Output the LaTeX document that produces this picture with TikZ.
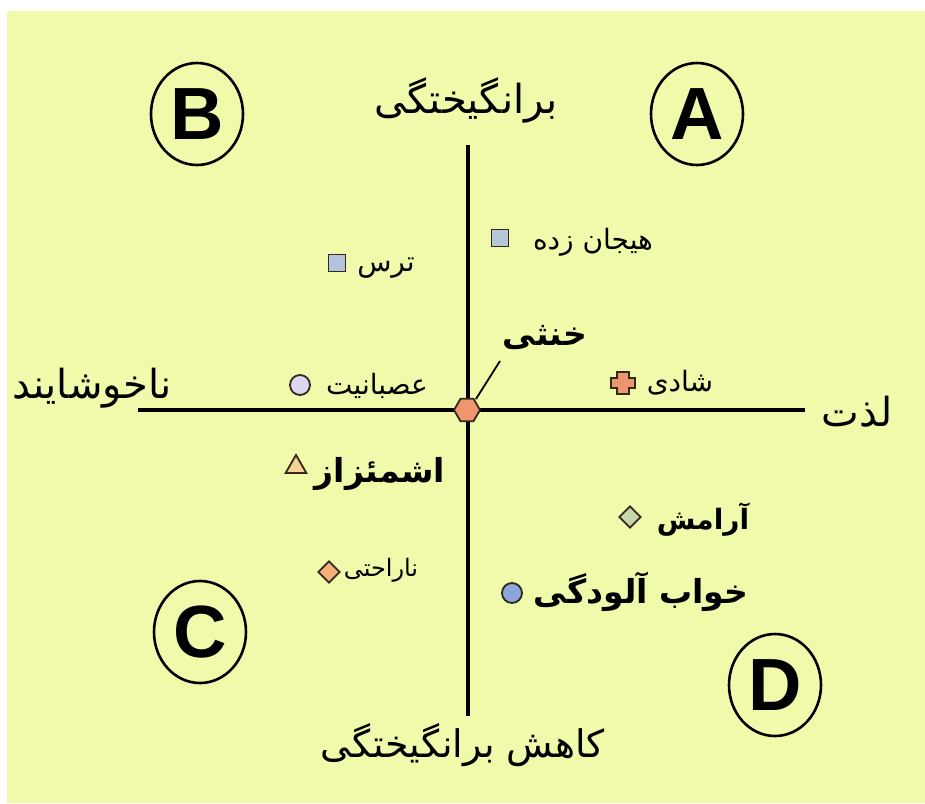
\documentclass[tikz,border=0pt]{standalone}
\usepackage{fontspec}
\setmainfont{Liberation Sans}
\newfontfamily\fa[Script=Arabic]{DejaVu Sans}
\TeXXeTstate=1
\usetikzlibrary{shapes.geometric}
\definecolor{bgyel}{RGB}{240,250,170}
\definecolor{hexc}{RGB}{240,150,110}
\definecolor{sqc}{RGB}{180,200,215}
\definecolor{sqc2}{RGB}{180,196,220}
\definecolor{lavc}{RGB}{220,215,240}
\definecolor{crossc}{RGB}{235,150,110}
\definecolor{tric}{RGB}{250,210,150}
\definecolor{diac}{RGB}{245,175,120}
\definecolor{diag}{RGB}{200,215,170}
\definecolor{bluec}{RGB}{140,165,220}
\definecolor{edgec}{RGB}{50,40,30}
\tikzset{
  quad/.style={draw=black,line width=2.6pt,ellipse,minimum width=92pt,minimum height=102pt,inner sep=0pt,font=\fontsize{74}{74}\selectfont\bfseries},
  axis/.style={line width=3.4pt,black},
  lbl/.style={inner sep=0pt,font=\fa\fontsize{28}{32}\selectfont},
  blbl/.style={inner sep=0pt,font=\fa\bfseries\fontsize{33}{36}\selectfont},
  albl/.style={inner sep=0pt,font=\fa\fontsize{40}{44}\selectfont},
  mk/.style={draw=edgec,line width=1.8pt,inner sep=0pt},
  sqm/.style={mk,rectangle,minimum size=17pt},
  circm/.style={mk,circle,minimum size=20pt},
  diam/.style={mk,diamond,minimum size=22pt},
  trim/.style={mk,regular polygon,regular polygon sides=3,minimum size=24pt},
}
\begin{document}
\begin{tikzpicture}[x=1pt,y=-1pt]
\useasboundingbox (0,0) rectangle (925,803);
\fill[white] (0,0) rectangle (925,803);
\fill[bgyel] (7,11) rectangle (925,803);
% axes
\coordinate (vt) at (468,145);
\coordinate (vb) at (468,716);
\coordinate (hl) at (138,410);
\coordinate (hr) at (805,410);
\draw[axis] (vt) -- (vb);
\draw[axis] (hl) -- (hr);
% quadrant labels
\node[quad] (B) at (197,114) {B};
\node[quad] (A) at (697,114) {A};
\node[quad] (C) at (200,632) {C};
\node[quad] (D) at (775,685) {D};
% axis labels
\node[albl] (top) at (466,100) {\beginR برانگیختگی\endR};
\node[albl,font=\fa\fontsize{38}{42}\selectfont] (bot) at (463,745) {\beginR کاهش برانگیختگی\endR};
\node[albl] (left) at (92,388) {\beginR ناخوشایند\endR};
\node[albl] (right) at (857,412) {\beginR لذت\endR};
% centre
\node[mk,regular polygon,regular polygon sides=6,minimum size=26pt,fill=hexc] (hex) at (467,410) {};
\node[blbl] (neutral) at (545,338) {\beginR خنثی\endR};
\coordinate (lead) at (500,361);
\draw[line width=1.8pt] (hex.north east) ++(0,-2) -- (lead);
% items
\node[sqm,fill=sqc] (m1) at (500,238) {};
\node[lbl] (t1) at (593,242) {\beginR هیجان زده\endR};
\node[sqm,fill=sqc2] (m2) at (337,263) {};
\node[lbl] (t2) at (386,268) {\beginR ترس\endR};
\node[circm,fill=lavc] (m3) at (300,385) {};
\node[lbl] (t3) at (377,386) {\beginR عصبانیت\endR};
\fill[crossc,draw=edgec,line width=1.8pt] (617,372) -- (629,372) -- (629,378) -- (635,378) -- (635,388) -- (629,388) -- (629,394) -- (617,394) -- (617,388) -- (611,388) -- (611,378) -- (617,378) -- cycle;
\node[lbl] (t4) at (680,383) {\beginR شادی\endR};
\node[trim,fill=tric] (m5) at (296,467) {};
\node[blbl] (t5) at (380,474) {\beginR اشمئزاز\endR};
\node[diam,fill=diac] (m6) at (329,572) {};
\node[lbl,font=\fa\fontsize{24}{28}\selectfont] (t6) at (381,570) {\beginR ناراحتی\endR};
\node[diam,fill=diag] (m7) at (630,517) {};
\node[blbl,font=\fa\bfseries\fontsize{28}{32}\selectfont] (t7) at (703,520) {\beginR آرامش\endR};
\node[circm,fill=bluec] (m8) at (512,593) {};
\node[blbl] (t8) at (641,592) {\beginR خواب آلودگی\endR};
\end{tikzpicture}
\end{document}
